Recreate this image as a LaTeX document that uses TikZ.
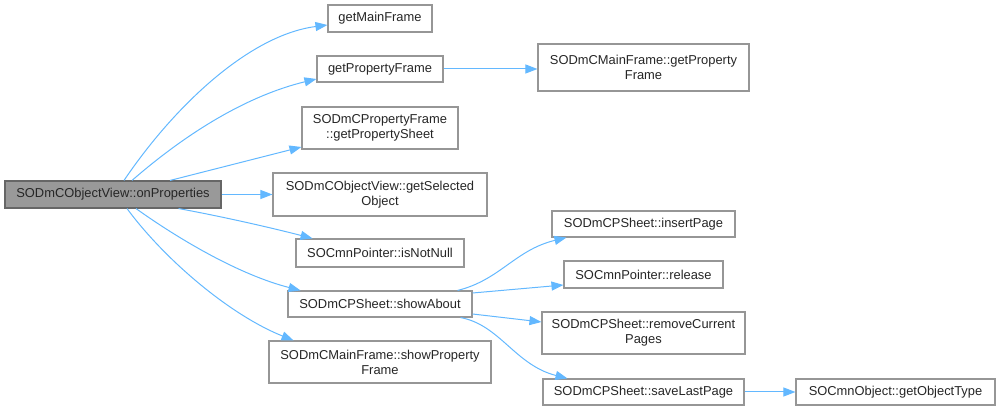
\documentclass[tikz,border=0pt]{standalone}
\usepackage{fontspec}
\setmainfont{Liberation Sans}
\usetikzlibrary{arrows.meta}
\definecolor{edgeblue}{RGB}{99,184,255}
\definecolor{boxgray}{RGB}{150,150,150}
\definecolor{rootfill}{RGB}{153,153,153}
\definecolor{rootdraw}{RGB}{102,102,102}
\begin{document}
\begin{tikzpicture}[x=1pt,y=-1pt,
  fn/.style={draw=boxgray,fill=white,line width=1.1pt,inner sep=0pt,align=center,
    font=\fontsize{12.9}{15}\selectfont,text=black!85},
  rootbox/.style={fn,fill=rootfill,draw=rootdraw},
  call/.style={draw=edgeblue,line width=1pt,-{Triangle[length=12pt,width=9pt]}}]
\useasboundingbox (0,0) rectangle (999,411);
\newcommand{\bx}[7]{\node[#1,minimum width={#5-#3},minimum height={#6-#4}] (#2) at ({(#3+#5)/2},{(#4+#6)/2}) {#7};}
\bx{rootbox}{root}{5}{181}{221}{208}{SODmCObjectView::onProperties}
\bx{fn}{gmf}{328}{5}{432}{32}{getMainFrame}
\bx{fn}{gpf}{317}{56}{443}{82}{getPropertyFrame}
\bx{fn}{gps}{302}{107}{458}{149}{SODmCPropertyFrame\\::getPropertySheet}
\bx{fn}{gso}{273}{173}{487}{216}{SODmCObjectView::getSelected\\Object}
\bx{fn}{inn}{296}{239}{464}{267}{SOCmnPointer::isNotNull}
\bx{fn}{sab}{288}{291}{472}{317}{SODmCPSheet::showAbout}
\bx{fn}{spf}{269}{341}{491}{383}{SODmCMainFrame::showProperty\\Frame}
\bx{fn}{mgpf}{538}{44}{749}{91}{SODmCMainFrame::getProperty\\Frame}
\bx{fn}{ins}{552}{211}{735}{237}{SODmCPSheet::insertPage}
\bx{fn}{rel}{564}{261}{723}{288}{SOCmnPointer::release}
\bx{fn}{rcp}{542}{312}{745}{354}{SODmCPSheet::removeCurrent\\Pages}
\bx{fn}{slp}{543}{379}{744}{405}{SODmCPSheet::saveLastPage}
\bx{fn}{got}{796}{379}{995}{405}{SOCmnObject::getObjectType}
% edges from root
\draw[call] ([xshift=11pt]root.north) .. controls (175,105) and (250,35) .. ([yshift=-6.5pt]gmf.west);
\draw[call] ([xshift=19pt]root.north) .. controls (190,130) and (250,95) .. ([yshift=-10pt]gpf.west);
\draw[call] ([xshift=57pt]root.north) -- ([yshift=-19pt]gps.west);
\draw[call] (root.east) -- (gso.west);
\draw[call] ([xshift=-43pt]root.south east) .. controls (230,218) and (280,230) .. ([xshift=-152pt]inn.north east);
\draw[call] ([xshift=23pt]root.south) .. controls (180,240) and (240,275) .. ([xshift=-172pt]sab.north east);
\draw[call] ([xshift=14pt]root.south) .. controls (165,260) and (230,315) .. ([xshift=-198pt]spf.north east);
% other edges
\draw[call] (gpf.east) -- (gpf.east -| mgpf.west);
\draw[call] ([xshift=-15pt]sab.north east) .. controls (500,280) and (515,250) .. ([xshift=15pt]ins.south west);
\draw[call] ([yshift=11pt]sab.east) -- ([yshift=-10.5pt]rel.west);
\draw[call] ([yshift=-10pt]sab.east) -- ([yshift=11pt]rcp.west);
\draw[call] ([xshift=-12pt]sab.south east) .. controls (500,325) and (515,365) .. ([xshift=25pt]slp.north west);
\draw[call] (slp.east) -- (got.west);
\end{tikzpicture}
\end{document}
